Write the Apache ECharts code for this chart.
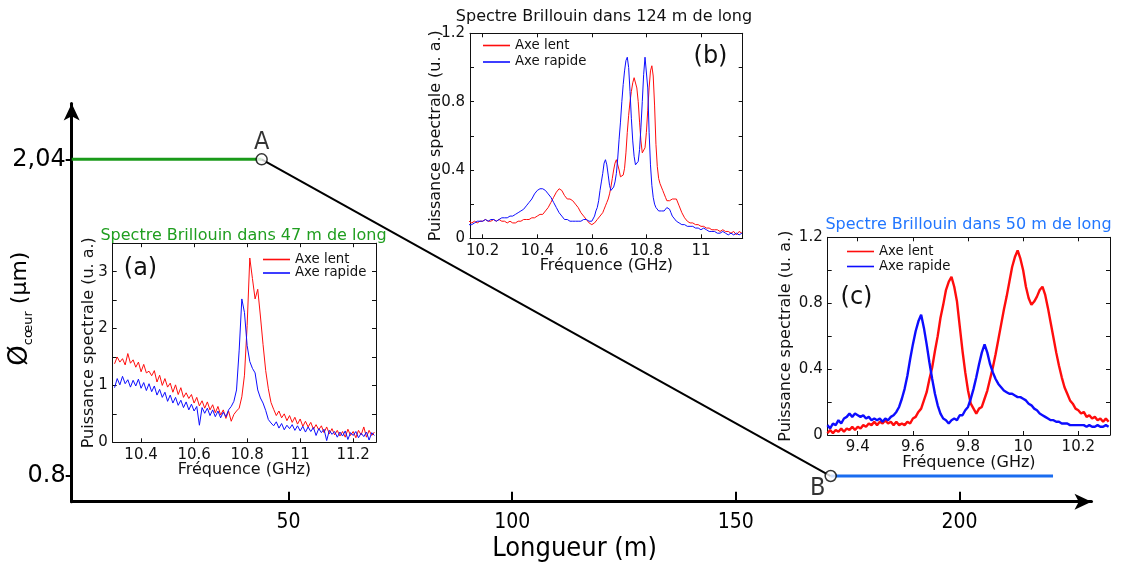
<!DOCTYPE html>
<html><head><meta charset="utf-8">
<script src="https://cdn.jsdelivr.net/npm/echarts@6/dist/echarts.min.js"></script>
<style>html,body{margin:0;padding:0;background:#fff}#c{width:1121px;height:565px}</style>
</head><body><div id="c"></div>
<script>
// ---------- main schematic ----------
const mainXTicks = [50, 100, 150, 200];
const mainYTicks = [0.8, 2.04];
const greenSegX = [1.54, 44.0];
const greenSegY = [2.04, 2.04];
const blackSegX = [44.0, 171.2];
const blackSegY = [2.04, 0.8];
const blueSegX = [171.2, 220.9];
const blueSegY = [0.8, 0.8];
const pointNames = ['A', 'B'];
const pointX = [44.0, 171.2];
const pointY = [2.04, 0.8];

// ---------- inset (a) : 47 m ----------
const freqA = [10.30,10.31,10.32,10.33,10.34,10.35,10.36,10.37,10.38,10.39,10.40,10.41,10.42,10.43,10.44,10.45,10.46,10.47,10.48,10.49,10.50,10.51,10.52,10.53,10.54,10.55,10.56,10.57,10.58,10.59,10.60,10.61,10.62,10.63,10.64,10.65,10.66,10.67,10.68,10.69,10.70,10.71,10.72,10.73,10.74,10.75,10.76,10.77,10.78,10.79,10.80,10.81,10.82,10.83,10.84,10.85,10.86,10.87,10.88,10.89,10.90,10.91,10.92,10.93,10.94,10.95,10.96,10.97,10.98,10.99,11.00,11.01,11.02,11.03,11.04,11.05,11.06,11.07,11.08,11.09,11.10,11.11,11.12,11.13,11.14,11.15,11.16,11.17,11.18,11.19,11.20,11.21,11.22,11.23,11.24,11.25,11.26,11.27,11.28];
const lentA = [1.38,1.50,1.41,1.47,1.36,1.56,1.39,1.45,1.32,1.41,1.24,1.37,1.22,1.25,1.17,1.26,1.06,1.18,1.00,1.12,0.97,1.04,0.88,1.01,0.84,0.96,0.79,0.87,0.77,0.84,0.69,0.79,0.64,0.73,0.60,0.71,0.57,0.66,0.52,0.63,0.48,0.57,0.42,0.55,0.37,0.49,0.55,0.60,0.80,1.18,2.05,3.24,2.88,2.52,2.69,2.22,1.72,1.26,0.94,0.70,0.58,0.47,0.55,0.43,0.50,0.38,0.47,0.35,0.44,0.32,0.41,0.28,0.37,0.27,0.35,0.23,0.31,0.22,0.29,0.17,0.27,0.15,0.24,0.13,0.21,0.11,0.19,0.09,0.23,0.12,0.19,0.08,0.21,0.13,0.27,0.09,0.21,0.12,0.18];
const rapideA = [0.96,1.12,1.01,1.16,1.03,1.10,0.97,1.09,0.99,1.11,0.95,1.05,0.91,1.03,0.89,0.99,0.83,0.93,0.79,0.88,0.72,0.83,0.69,0.79,0.65,0.74,0.61,0.71,0.57,0.67,0.55,0.63,0.30,0.61,0.51,0.60,0.47,0.57,0.45,0.55,0.43,0.53,0.45,0.57,0.63,0.72,0.92,1.62,2.52,2.28,1.70,1.42,1.30,1.22,0.92,0.78,0.69,0.56,0.40,0.34,0.29,0.36,0.25,0.33,0.22,0.30,0.24,0.31,0.21,0.29,0.20,0.28,0.18,0.27,0.19,0.26,0.12,0.24,0.17,0.23,0.03,0.21,0.14,0.19,0.09,0.18,0.11,0.20,0.05,0.17,0.12,0.19,0.08,0.16,0.10,0.18,0.04,0.17,0.12];

// ---------- inset (b) : 124 m ----------
const freqB = [10.15,10.16,10.17,10.18,10.19,10.20,10.21,10.22,10.23,10.24,10.25,10.26,10.27,10.28,10.29,10.30,10.31,10.32,10.33,10.34,10.35,10.36,10.37,10.38,10.39,10.40,10.41,10.42,10.43,10.44,10.45,10.46,10.47,10.48,10.49,10.50,10.51,10.52,10.53,10.54,10.55,10.56,10.57,10.58,10.59,10.60,
10.605,10.61,10.615,10.62,10.625,10.63,10.635,10.64,10.645,10.65,10.655,10.66,10.665,10.67,10.675,10.68,10.685,10.69,10.695,10.70,10.705,10.71,10.715,10.72,10.725,10.73,10.735,10.74,10.745,10.75,10.755,10.76,10.765,10.77,10.775,10.78,10.785,10.79,10.795,10.80,10.805,10.81,10.815,10.82,10.825,10.83,10.835,10.84,10.845,10.85,10.855,10.86,10.865,10.87,10.875,10.88,10.885,10.89,10.895,10.90,
10.91,10.92,10.93,10.94,10.95,10.96,10.97,10.98,10.99,11.00,11.01,11.02,11.03,11.04,11.05,11.06,11.07,11.08,11.09,11.10,11.11,11.12,11.13,11.14,11.15];
const lentB = [0.10,0.09,0.10,0.09,0.10,0.10,0.11,0.10,0.10,0.11,0.10,0.11,0.10,0.10,0.09,0.10,0.09,0.09,0.10,0.10,0.11,0.11,0.11,0.12,0.12,0.13,0.14,0.14,0.16,0.18,0.21,0.24,0.27,0.29,0.28,0.25,0.23,0.23,0.22,0.20,0.18,0.15,0.13,0.11,0.09,0.08,
0.085,0.09,0.10,0.11,0.12,0.13,0.14,0.15,0.17,0.19,0.21,0.23,0.26,0.30,0.35,0.40,0.44,0.46,0.45,0.40,0.36,0.35,0.37,0.41,0.50,0.62,0.72,0.80,0.86,0.91,0.94,0.93,0.88,0.80,0.68,0.57,0.50,0.49,0.53,0.62,0.75,0.88,0.98,1.01,0.95,0.78,0.55,0.42,0.35,0.32,0.30,0.28,0.26,0.24,0.22,0.21,0.22,0.22,0.23,0.24,
0.23,0.19,0.15,0.12,0.10,0.09,0.09,0.08,0.08,0.07,0.07,0.06,0.06,0.05,0.05,0.05,0.04,0.05,0.04,0.04,0.03,0.04,0.02,0.04,0.03];
const rapideB = [0.08,0.08,0.09,0.10,0.10,0.10,0.11,0.10,0.11,0.11,0.10,0.11,0.12,0.12,0.12,0.13,0.13,0.14,0.15,0.16,0.17,0.19,0.21,0.23,0.26,0.28,0.29,0.29,0.28,0.26,0.24,0.21,0.18,0.15,0.13,0.11,0.11,0.10,0.10,0.10,0.10,0.10,0.11,0.11,0.10,0.10,
0.11,0.13,0.16,0.18,0.22,0.28,0.33,0.38,0.44,0.46,0.43,0.37,0.31,0.28,0.28,0.30,0.33,0.38,0.47,0.58,0.68,0.80,0.90,0.98,1.04,1.06,1.00,0.86,0.70,0.57,0.48,0.43,0.42,0.45,0.52,0.65,0.80,0.96,1.06,1.05,0.88,0.62,0.43,0.31,0.24,0.20,0.18,0.17,0.16,0.16,0.16,0.15,0.16,0.17,0.18,0.18,0.17,0.15,0.13,0.12,
0.10,0.09,0.08,0.08,0.07,0.07,0.07,0.06,0.06,0.05,0.06,0.05,0.04,0.04,0.04,0.03,0.03,0.04,0.03,0.02,0.03,0.02,0.03,0.02,0.03];

// ---------- inset (c) : 50 m ----------
const freqC = [9.29,9.30,9.31,9.32,9.33,9.34,9.35,9.36,9.37,9.38,9.39,9.40,9.41,9.42,9.43,9.44,9.45,9.46,9.47,9.48,9.49,9.50,9.51,9.52,9.53,9.54,9.55,9.56,9.57,9.58,9.59,9.60,9.61,9.62,9.63,9.64,9.65,9.66,9.67,9.68,9.69,9.70,9.71,9.72,9.73,9.74,9.75,9.76,9.77,9.78,9.79,9.80,9.81,9.82,9.83,9.84,9.85,9.86,9.87,9.88,9.89,9.90,9.91,9.92,9.93,9.94,9.95,9.96,9.97,9.98,9.99,10.00,10.01,10.02,10.03,10.04,10.05,10.06,10.07,10.08,10.09,10.10,10.11,10.12,10.13,10.14,10.15,10.16,10.17,10.18,10.19,10.20,10.21,10.22,10.23,10.24,10.25,10.26,10.27,10.28,10.29,10.30,10.31];
const lentC = [0.01,0.03,0.01,0.03,0.02,0.04,0.02,0.04,0.03,0.05,0.03,0.05,0.04,0.06,0.05,0.07,0.06,0.08,0.06,0.08,0.07,0.09,0.07,0.08,0.06,0.08,0.06,0.07,0.06,0.08,0.07,0.10,0.11,0.14,0.16,0.21,0.26,0.34,0.41,0.51,0.60,0.71,0.79,0.88,0.93,0.96,0.90,0.81,0.66,0.51,0.38,0.27,0.19,0.16,0.13,0.16,0.17,0.22,0.27,0.34,0.41,0.49,0.58,0.67,0.76,0.84,0.93,1.02,1.08,1.12,1.07,1.00,0.90,0.83,0.79,0.81,0.84,0.88,0.90,0.85,0.77,0.68,0.59,0.50,0.42,0.35,0.29,0.25,0.21,0.19,0.16,0.15,0.13,0.14,0.11,0.12,0.10,0.11,0.09,0.10,0.08,0.10,0.08];
const rapideC = [0.06,0.04,0.07,0.06,0.09,0.07,0.10,0.11,0.13,0.11,0.13,0.12,0.11,0.12,0.10,0.11,0.09,0.10,0.09,0.10,0.08,0.10,0.09,0.11,0.12,0.14,0.17,0.22,0.28,0.36,0.46,0.55,0.63,0.69,0.73,0.65,0.55,0.44,0.34,0.25,0.18,0.13,0.10,0.09,0.07,0.09,0.10,0.09,0.12,0.12,0.15,0.17,0.22,0.28,0.35,0.43,0.50,0.55,0.50,0.43,0.38,0.34,0.31,0.29,0.27,0.26,0.25,0.25,0.24,0.23,0.23,0.22,0.21,0.19,0.18,0.16,0.15,0.13,0.12,0.11,0.10,0.09,0.09,0.08,0.08,0.07,0.07,0.07,0.06,0.06,0.06,0.06,0.06,0.06,0.05,0.06,0.05,0.05,0.06,0.05,0.05,0.06,0.05];

const ticksAx = [10.4, 10.6, 10.8, 11, 11.2];
const ticksBx = [10.2, 10.4, 10.6, 10.8, 11];
const ticksCx = [9.4, 9.6, 9.8, 10, 10.2];

const titles = ['Spectre Brillouin dans 47 m de long', 'Spectre Brillouin dans 124 m de long', 'Spectre Brillouin dans 50 m de long'];
const panelTags = ['(a)', '(b)', '(c)'];
const legendNames = ['Axe lent', 'Axe rapide'];

// ---------- build ----------
const FONT = "'DejaVu Sans', Verdana, sans-serif";
const CFONT = "'DejaVu Sans Condensed', 'DejaVu Sans', sans-serif";
const RED = '#ff0d0d', BLUE = '#0d0dff';
const zip = (xs, ys) => xs.map((x, i) => [x, ys[i]]);

const grids = [
  {left: 71.7, right: 29.5, top: 103.5, bottom: 63.3},
  {left: 112.7, right: 745, top: 243.2, bottom: 122.7},
  {left: 470, right: 378.3, top: 33.3, bottom: 326.7},
  {left: 827.7, right: 11, top: 237.3, bottom: 130}
].map(g => Object.assign(g, {containLabel: false, outerBoundsMode: 'none'}));

const xAxes = [{
  gridIndex: 0, type: 'value', min: 1.54, max: 229.5,
  axisLine: {show: true, lineStyle: {color: '#000', width: 3}, symbol: ['none', 'arrow'], symbolSize: [12, 17]},
  axisTick: {show: true, inside: true, length: 10, lineStyle: {color: '#000', width: 2}, customValues: mainXTicks},
  axisLabel: {customValues: mainXTicks, margin: 10, fontSize: 21, fontFamily: CFONT, color: '#000'},
  splitLine: {show: false},
  name: 'Longueur (m)', nameLocation: 'middle', nameGap: 34, nameMoveOverlap: false,
  nameTextStyle: {fontSize: 27, fontFamily: CFONT, color: '#000', padding: [0, 14, 0, 0]}
}];
const yAxes = [{
  gridIndex: 0, type: 'value', min: 0.6994, max: 2.2585,
  axisLine: {show: true, lineStyle: {color: '#000', width: 3}, symbol: ['none', 'arrow'], symbolSize: [12, 17]},
  axisTick: {show: true, inside: false, length: 6, lineStyle: {color: '#000', width: 2}, customValues: mainYTicks},
  axisLabel: {customValues: mainYTicks, margin: 6, fontSize: 24, fontFamily: FONT, color: '#000',
    formatter: v => Math.abs(v - 2.04) < 1e-6 ? '2,04' : '0.8'},
  splitLine: {show: false},
  name: '{o|Ø}{s|cœur}{m| (µm)}', nameLocation: 'middle', nameRotate: 90, nameGap: 37, nameMoveOverlap: false,
  nameTextStyle: {padding: [0, 12, 0, 0], rich: {
    o: {fontSize: 26, fontFamily: FONT, color: '#000', lineHeight: 28},
    m: {fontSize: 22, fontFamily: FONT, color: '#000', lineHeight: 28},
    s: {fontSize: 13, fontFamily: FONT, color: '#000', verticalAlign: 'bottom', lineHeight: 14}
  }}
}];

const insets = [
  {g: 1, xmin: 10.293, xmax: 11.286, xt: ticksAx, ymax: 3.5, yint: 0.5, lw: 1,
   ylab: v => (Math.abs(v - Math.round(v)) < 1e-6 && v < 3.4) ? String(Math.round(v)) : '', yGap: 16, fx: freqA, r: lentA, b: rapideA},
  {g: 2, xmin: 10.1535, xmax: 11.153, xt: ticksBx, ymax: 1.2, yint: 0.2, lw: 1,
   ylab: v => (Math.round(v * 10) % 4 === 0) ? String(+v.toFixed(1)) : '', yGap: 26.5, fx: freqB, r: lentB, b: rapideB},
  {g: 3, xmin: 9.291, xmax: 10.315, xt: ticksCx, ymax: 1.2, yint: 0.2, lw: 2.4,
   ylab: v => (Math.round(v * 10) % 4 === 0) ? String(+v.toFixed(1)) : '', yGap: 34, fx: freqC, r: lentC, b: rapideC}
];

const series = [
  {type: 'line', xAxisIndex: 0, yAxisIndex: 0, symbol: 'none', data: zip(greenSegX, greenSegY), lineStyle: {color: '#1a9a1a', width: 3}, z: 2},
  {type: 'line', xAxisIndex: 0, yAxisIndex: 0, symbol: 'none', data: zip(blackSegX, blackSegY), lineStyle: {color: '#000', width: 2}, z: 2},
  {type: 'line', xAxisIndex: 0, yAxisIndex: 0, symbol: 'none', data: zip(blueSegX, blueSegY), lineStyle: {color: '#1a6cf0', width: 3}, z: 2},
  {type: 'scatter', xAxisIndex: 0, yAxisIndex: 0, symbol: 'circle', symbolSize: 11, z: 5,
   itemStyle: {color: '#fff', borderColor: '#000', borderWidth: 1.5},
   data: pointNames.map((n, i) => ({name: n, value: [pointX[i], pointY[i]]})),
   label: {show: true, position: 'inside', formatter: p => p.name, fontSize: 25, fontFamily: CFONT, color: '#000',
     textBorderWidth: 0, textBorderColor: 'transparent'},
   labelLayout: p => p.dataIndex === 0 ? {dx: 0, dy: -17} : {dx: -13, dy: 12}
  }
];

insets.forEach((c, k) => {
  const xi = xAxes.length, yi = yAxes.length;
  const common = {gridIndex: c.g, type: 'value', min: c.xmin, max: c.xmax, splitLine: {show: false},
    axisLine: {show: true, onZero: false, lineStyle: {color: '#111', width: 1}}};
  xAxes.push(Object.assign({}, common, {position: 'bottom',
    axisTick: {show: true, inside: true, length: 4, lineStyle: {color: '#111'}, customValues: c.xt},
    axisLabel: {customValues: c.xt, margin: 5, fontSize: 15, fontFamily: FONT, color: '#111'},
    name: 'Fréquence (GHz)', nameLocation: 'middle', nameGap: 20, nameMoveOverlap: false,
    nameTextStyle: {fontSize: 16, fontFamily: FONT, color: '#111'}}));
  xAxes.push(Object.assign({}, common, {position: 'top',
    axisTick: {show: true, inside: true, length: 4, lineStyle: {color: '#111'}, customValues: c.xt},
    axisLabel: {show: false}}));
  const ycommon = {gridIndex: c.g, type: 'value', min: 0, max: c.ymax, interval: c.yint, splitLine: {show: false},
    axisLine: {show: true, onZero: false, lineStyle: {color: '#111', width: 1}},
    axisTick: {show: true, inside: true, length: 4, lineStyle: {color: '#111'}}};
  yAxes.push(Object.assign({}, ycommon, {position: 'left',
    axisLabel: {margin: 5, fontSize: 15, fontFamily: FONT, color: '#111', formatter: c.ylab},
    name: 'Puissance spectrale (u. a.)', nameLocation: 'middle', nameRotate: 90, nameGap: c.yGap, nameMoveOverlap: false,
    nameTextStyle: {fontSize: 16, fontFamily: FONT, color: '#111'}}));
  yAxes.push(Object.assign({}, ycommon, {position: 'right', axisLabel: {show: false}}));
  series.push({type: 'line', name: legendNames[0], xAxisIndex: xi, yAxisIndex: yi, symbol: 'none',
    data: zip(c.fx, c.r), lineStyle: {color: RED, width: c.lw}, itemStyle: {color: RED}, z: 3});
  series.push({type: 'line', name: legendNames[1], xAxisIndex: xi, yAxisIndex: yi, symbol: 'none',
    data: zip(c.fx, c.b), lineStyle: {color: BLUE, width: c.lw}, itemStyle: {color: BLUE}, z: 4});
});

const legendBase = {orient: 'vertical', data: legendNames, icon: 'rect', itemWidth: 27, itemHeight: 1.6, padding: 0,
  textStyle: {fontSize: 13.3, fontFamily: FONT, color: '#111'}, selectedMode: false};
const legends = [
  Object.assign({}, legendBase, {left: 263, top: 253, itemGap: 0.5}),
  Object.assign({}, legendBase, {left: 483, top: 39, itemGap: 3.5}),
  Object.assign({}, legendBase, {left: 847, top: 245, itemGap: 2})
];

const txt = (t, x, y, size, color) => ({type: 'text', x: x, y: y, z: 10,
  style: {text: t, fontSize: size, fontFamily: FONT, fill: color, align: 'center', verticalAlign: 'middle'}});
const graphic = [
  txt(titles[0], 243.5, 236, 16, '#1f9e1f'),
  txt(titles[1], 604, 16.5, 16, '#111'),
  txt(titles[2], 968.5, 224.5, 16, '#2176ff'),
  txt(panelTags[0], 140.5, 268.5, 24, '#111'),
  txt(panelTags[1], 710.5, 56.5, 24, '#111'),
  txt(panelTags[2], 856.5, 297.5, 24, '#111')
];

const chart = echarts.init(document.getElementById('c'), null, {renderer: 'canvas'});
chart.setOption({animation: false, backgroundColor: '#fff', grid: grids, xAxis: xAxes, yAxis: yAxes,
  series: series, legend: legends, graphic: graphic});
</script></body></html>
